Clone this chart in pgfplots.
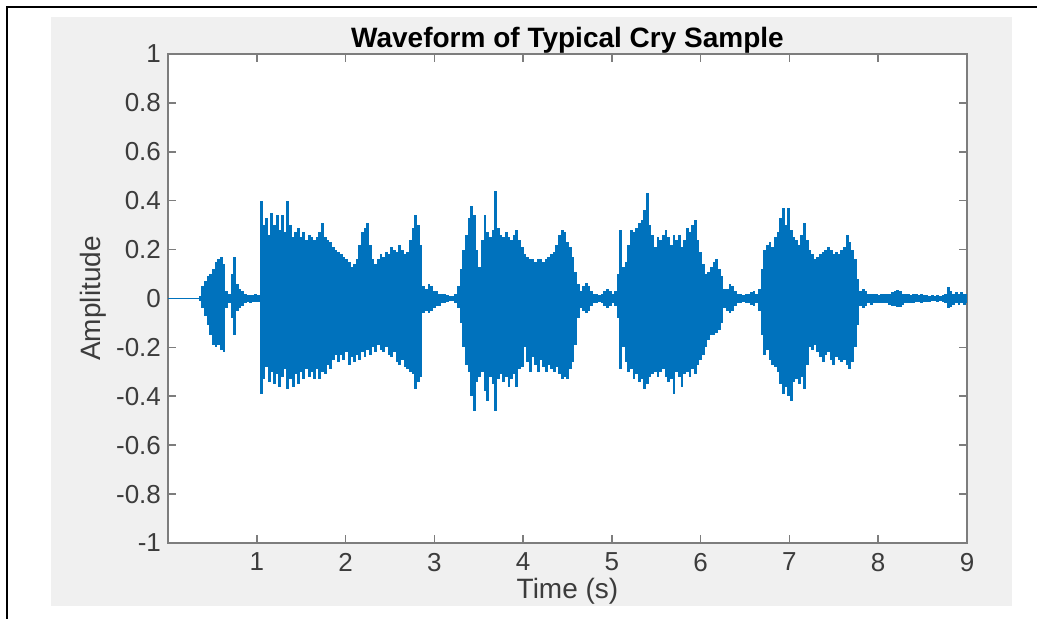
\documentclass[border=0pt]{standalone}
\usepackage{pgfplots}
\pgfplotsset{compat=1.18}
\usepackage{pgfplotstable}
\usepackage{fontspec}
\setmainfont{Liberation Sans}

\definecolor{mblue}{RGB}{0,114,189}
\definecolor{panel}{RGB}{240,240,240}
\definecolor{axgray}{RGB}{125,125,125}
\definecolor{txt}{RGB}{60,60,60}

% envelope of the waveform (time, top, bottom)
\pgfplotstableread{
t up lo
0.36 0.01 -0.01
0.39 0.05 -0.04
0.42 0.07 -0.07
0.45 0.09 -0.11
0.48 0.10 -0.15
0.51 0.12 -0.19
0.54 0.15 -0.20
0.57 0.16 -0.19
0.60 0.17 -0.21
0.63 0.14 -0.22
0.66 0.03 -0.04
0.69 0.02 -0.02
0.72 0.10 -0.08
0.75 0.17 -0.15
0.78 0.06 -0.05
0.81 0.04 -0.04
0.84 0.03 -0.03
0.87 0.02 -0.02
0.90 0.015 -0.015
0.93 0.015 -0.02
0.96 0.015 -0.015
0.99 0.02 -0.015
1.02 0.015 -0.015
1.05 0.40 -0.39
1.08 0.30 -0.33
1.11 0.33 -0.28
1.14 0.26 -0.34
1.17 0.35 -0.30
1.20 0.30 -0.35
1.23 0.34 -0.31
1.26 0.28 -0.36
1.29 0.34 -0.32
1.32 0.27 -0.29
1.35 0.40 -0.37
1.38 0.30 -0.33
1.41 0.25 -0.36
1.44 0.27 -0.31
1.47 0.29 -0.35
1.50 0.25 -0.30
1.53 0.27 -0.33
1.56 0.24 -0.29
1.59 0.26 -0.32
1.62 0.25 -0.30
1.65 0.24 -0.33
1.68 0.25 -0.29
1.71 0.27 -0.33
1.74 0.31 -0.30
1.77 0.25 -0.31
1.80 0.24 -0.27
1.83 0.23 -0.29
1.86 0.21 -0.25
1.89 0.20 -0.23
1.92 0.19 -0.26
1.95 0.18 -0.23
1.98 0.17 -0.25
2.01 0.16 -0.22
2.04 0.15 -0.27
2.07 0.13 -0.24
2.10 0.14 -0.26
2.13 0.16 -0.23
2.16 0.22 -0.25
2.19 0.27 -0.22
2.22 0.29 -0.24
2.25 0.31 -0.21
2.28 0.22 -0.23
2.31 0.16 -0.20
2.34 0.14 -0.22
2.37 0.16 -0.19
2.40 0.18 -0.21
2.43 0.17 -0.22
2.46 0.19 -0.20
2.49 0.18 -0.23
2.52 0.21 -0.24
2.55 0.20 -0.22
2.58 0.19 -0.26
2.61 0.22 -0.27
2.64 0.20 -0.25
2.67 0.18 -0.28
2.70 0.19 -0.29
2.73 0.24 -0.30
2.76 0.29 -0.31
2.79 0.34 -0.37
2.82 0.30 -0.34
2.85 0.22 -0.32
2.88 0.05 -0.06
2.91 0.04 -0.05
2.94 0.06 -0.06
2.97 0.05 -0.05
3.00 0.03 -0.04
3.03 0.03 -0.03
3.06 0.02 -0.03
3.09 0.02 -0.02
3.12 0.02 -0.02
3.15 0.015 -0.015
3.18 0.01 -0.01
3.21 0.01 -0.01
3.24 0.02 -0.02
3.27 0.05 -0.04
3.30 0.12 -0.10
3.33 0.20 -0.20
3.36 0.26 -0.27
3.39 0.33 -0.30
3.42 0.38 -0.40
3.45 0.34 -0.46
3.48 0.20 -0.34
3.51 0.13 -0.32
3.54 0.24 -0.30
3.57 0.34 -0.38
3.60 0.27 -0.42
3.63 0.25 -0.32
3.66 0.28 -0.35
3.69 0.44 -0.46
3.72 0.29 -0.33
3.75 0.26 -0.31
3.78 0.25 -0.34
3.81 0.27 -0.32
3.84 0.25 -0.36
3.87 0.24 -0.33
3.90 0.26 -0.31
3.93 0.28 -0.36
3.96 0.24 -0.29
3.99 0.21 -0.28
4.02 0.18 -0.20
4.05 0.17 -0.26
4.08 0.16 -0.30
4.11 0.16 -0.24
4.14 0.15 -0.27
4.17 0.16 -0.30
4.20 0.16 -0.25
4.23 0.15 -0.28
4.26 0.16 -0.30
4.29 0.17 -0.27
4.32 0.18 -0.29
4.35 0.19 -0.30
4.38 0.22 -0.28
4.41 0.26 -0.31
4.44 0.28 -0.33
4.47 0.27 -0.32
4.50 0.23 -0.33
4.53 0.21 -0.29
4.56 0.17 -0.26
4.59 0.11 -0.19
4.62 0.06 -0.08
4.65 0.03 -0.04
4.68 0.05 -0.05
4.71 0.065 -0.06
4.74 0.05 -0.05
4.77 0.03 -0.03
4.80 0.02 -0.02
4.83 0.02 -0.02
4.86 0.015 -0.015
4.89 0.02 -0.02
4.92 0.03 -0.03
4.95 0.04 -0.04
4.98 0.03 -0.03
5.01 0.02 -0.02
5.04 0.03 -0.03
5.07 0.10 -0.08
5.10 0.28 -0.29
5.13 0.13 -0.20
5.16 0.15 -0.26
5.19 0.22 -0.30
5.22 0.28 -0.29
5.25 0.27 -0.33
5.28 0.29 -0.31
5.31 0.31 -0.34
5.34 0.32 -0.33
5.37 0.36 -0.37
5.40 0.43 -0.35
5.43 0.30 -0.32
5.46 0.26 -0.31
5.49 0.21 -0.30
5.52 0.25 -0.32
5.55 0.24 -0.30
5.58 0.26 -0.29
5.61 0.28 -0.32
5.64 0.25 -0.34
5.67 0.22 -0.33
5.70 0.26 -0.39
5.73 0.24 -0.30
5.76 0.26 -0.32
5.79 0.21 -0.36
5.82 0.24 -0.31
5.85 0.29 -0.30
5.88 0.27 -0.32
5.91 0.30 -0.29
5.94 0.32 -0.31
5.97 0.24 -0.27
6.00 0.19 -0.25
6.03 0.14 -0.23
6.06 0.10 -0.20
6.09 0.11 -0.17
6.12 0.13 -0.15
6.15 0.15 -0.15
6.18 0.16 -0.14
6.21 0.12 -0.13
6.24 0.09 -0.10
6.27 0.04 -0.04
6.30 0.04 -0.05
6.33 0.06 -0.06
6.36 0.05 -0.05
6.39 0.03 -0.03
6.42 0.02 -0.02
6.45 0.02 -0.02
6.48 0.015 -0.015
6.51 0.02 -0.02
6.54 0.02 -0.02
6.57 0.025 -0.025
6.60 0.03 -0.03
6.63 0.02 -0.02
6.66 0.04 -0.05
6.69 0.12 -0.15
6.72 0.20 -0.23
6.75 0.22 -0.21
6.78 0.23 -0.25
6.81 0.21 -0.27
6.84 0.25 -0.28
6.87 0.27 -0.30
6.90 0.33 -0.35
6.93 0.37 -0.39
6.96 0.30 -0.36
6.99 0.37 -0.40
7.02 0.28 -0.42
7.05 0.25 -0.34
7.08 0.24 -0.33
7.11 0.22 -0.35
7.14 0.26 -0.32
7.17 0.31 -0.37
7.20 0.24 -0.27
7.23 0.20 -0.20
7.26 0.18 -0.21
7.29 0.16 -0.19
7.32 0.17 -0.22
7.35 0.18 -0.24
7.38 0.19 -0.26
7.41 0.20 -0.23
7.44 0.21 -0.22
7.47 0.20 -0.25
7.50 0.18 -0.27
7.53 0.19 -0.24
7.56 0.18 -0.25
7.59 0.20 -0.26
7.62 0.21 -0.25
7.65 0.26 -0.27
7.68 0.23 -0.29
7.71 0.20 -0.26
7.74 0.16 -0.20
7.77 0.08 -0.11
7.80 0.03 -0.03
7.83 0.04 -0.04
7.86 0.03 -0.03
7.89 0.02 -0.02
7.92 0.02 -0.025
7.95 0.02 -0.02
7.98 0.02 -0.02
8.01 0.015 -0.02
8.04 0.02 -0.02
8.07 0.02 -0.02
8.10 0.02 -0.02
8.13 0.02 -0.025
8.16 0.025 -0.03
8.19 0.03 -0.03
8.22 0.035 -0.035
8.25 0.03 -0.035
8.28 0.02 -0.025
8.31 0.02 -0.02
8.34 0.02 -0.02
8.37 0.015 -0.02
8.40 0.02 -0.02
8.43 0.02 -0.015
8.46 0.015 -0.015
8.49 0.02 -0.02
8.52 0.015 -0.015
8.55 0.015 -0.015
8.58 0.01 -0.015
8.61 0.015 -0.01
8.64 0.01 -0.01
8.67 0.015 -0.015
8.70 0.01 -0.01
8.73 0.015 -0.015
8.76 0.02 -0.02
8.79 0.045 -0.04
8.82 0.03 -0.035
8.85 0.02 -0.025
8.88 0.025 -0.02
8.91 0.02 -0.025
8.94 0.025 -0.02
8.97 0.02 -0.025
9.00 0.02 -0.02
}\wave

\begin{document}
\begin{tikzpicture}[x=0.5pt,y=0.5pt]
\useasboundingbox (0,0) rectangle (1037,619);
\fill[white] (0,0) rectangle (1037,619);
\fill[panel] (51,13) rectangle (1012,602);
\draw[black, line width=1.2pt] (7,0) -- (7,612) -- (1037,612);

\begin{axis}[
  at={(84pt,38pt)}, anchor=south west,
  scale only axis,
  width=399.5pt, height=244.5pt,
  axis background/.style={fill=white},
  xmin=0, xmax=9, ymin=-1, ymax=1,
  xtick={1,2,3,4,5,6,7,8,9},
  xticklabels={1,2,3,4,5,6,7,8,9},
  ytick={-1,-0.8,-0.6,-0.4,-0.2,0,0.2,0.4,0.6,0.8,1},
  yticklabels={-1,-0.8,-0.6,-0.4,-0.2,0,0.2,0.4,0.6,0.8,1},
  tick align=inside,
  major tick length=4pt,
  axis line style={axgray, line width=0.9pt},
  every tick/.style={axgray, line width=0.8pt},
  tick label style={font=\fontsize{13}{16}\selectfont, text=txt},
  xticklabel style={yshift=-1.5pt},
  title={Waveform of Typical Cry Sample},
  title style={font=\bfseries\fontsize{14}{16}\selectfont, text=black,
    at={(axis description cs:0.5,1)}, anchor=center, yshift=1pt},
  xlabel={Time (s)},
  ylabel={Amplitude},
  label style={font=\fontsize{14}{16}\selectfont, text=txt},
  xlabel style={at={(axis description cs:0.5,0)}, anchor=center, yshift=-24pt},
  ylabel style={at={(axis description cs:-0.094,0.5)}, anchor=center},
]
% zero line, visible where the recording is silent
\addplot[mblue, line width=0.6pt] coordinates {(0,0) (9,0)};
% waveform drawn as dense vertical strokes up to the envelope
\addplot[mblue, ycomb, no marks, line width=1.4pt] table[x=t, y=up] {\wave};
\addplot[mblue, ycomb, no marks, line width=1.4pt] table[x=t, y=lo] {\wave};
\end{axis}
\end{tikzpicture}
\end{document}
